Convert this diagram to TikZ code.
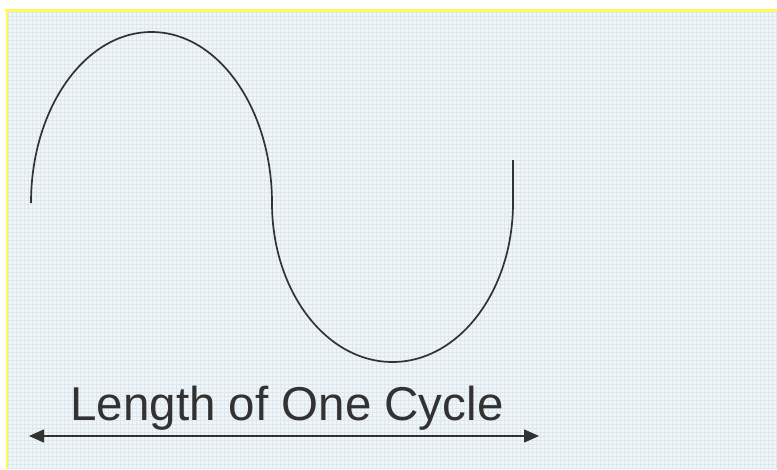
\documentclass[tikz,border=0pt]{standalone}
\usepackage{fontspec}
\setmainfont{Liberation Sans}
\usetikzlibrary{arrows.meta}
\definecolor{bgfill}{RGB}{240,245,248}
\definecolor{gridc}{RGB}{222,231,238}
\definecolor{frame}{RGB}{255,250,90}
\definecolor{ink}{RGB}{50,50,50}
\tikzset{
  wave/.style={draw=ink, line width=1.7pt},
  measure/.style={draw=ink, line width=1.5pt, {Triangle[length=15pt,width=13pt]}-{Triangle[length=15pt,width=13pt]}},
  caption/.style={font=\fontsize{47.5}{52}\selectfont, text=ink, inner sep=0pt, anchor=base}
}
\begin{document}
\begin{tikzpicture}[x=1pt,y=-1pt]
\useasboundingbox (0,0) rectangle (777,469);
\fill[white] (0,0) rectangle (777,469);
\fill[bgfill] (7,11) rectangle (777,469);
\draw[gridc, line width=0.4pt, step=4pt] (8,12) grid (777,469);
\draw[frame, line width=2.5pt] (5,10.5) -- (777,10.5);
\draw[frame, line width=2.5pt] (7,10) -- (7,469);
% wave
\coordinate (w0) at (31,203);
\coordinate (wend) at (513,160);
\draw[wave] (w0) arc[start angle=180, end angle=360, x radius=120.5, y radius=171]
  arc[start angle=180, end angle=0, x radius=120.5, y radius=159] -- (wend);
% measure arrow
\coordinate (al) at (29,436);
\coordinate (ar) at (539,436);
\draw[measure] (al) -- (ar);
\node[caption] (lbl) at (287,420) {Length of One Cycle};
\end{tikzpicture}
\end{document}
